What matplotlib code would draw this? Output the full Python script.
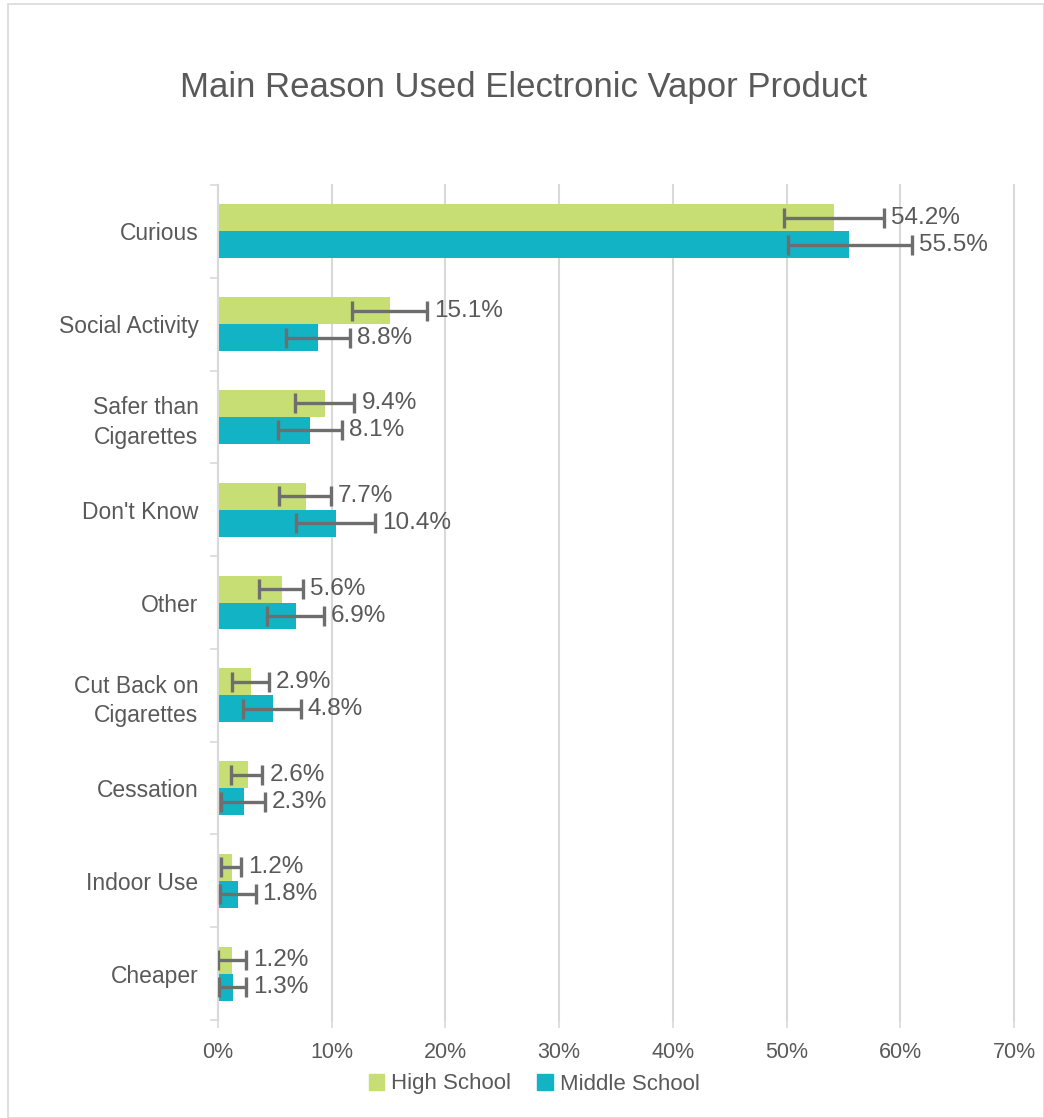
import matplotlib
matplotlib.use("Agg")
import matplotlib.pyplot as plt
import numpy as np
from matplotlib.patches import Rectangle, Patch

categories = ["Curious", "Social Activity", "Safer than\nCigarettes", "Don't Know", "Other",
              "Cut Back on\nCigarettes", "Cessation", "Indoor Use", "Cheaper"]
hs_values = [54.2, 15.1, 9.4, 7.7, 5.6, 2.9, 2.6, 1.2, 1.2]
ms_values = [55.5, 8.8, 8.1, 10.4, 6.9, 4.8, 2.3, 1.8, 1.3]
hs_low = [49.8, 11.8, 6.8, 5.4, 3.6, 1.2, 1.1, 0.3, 0.0]
hs_high = [58.6, 18.4, 12.0, 9.9, 7.5, 4.5, 3.9, 2.0, 2.5]
ms_low = [50.1, 6.0, 5.3, 6.9, 4.3, 2.2, 0.3, 0.2, 0.1]
ms_high = [61.0, 11.6, 10.9, 13.8, 9.3, 7.3, 4.1, 3.3, 2.5]
xticks = [0, 10, 20, 30, 40, 50, 60, 70]

plt.rcParams['font.family'] = ['Liberation Sans', 'DejaVu Sans']
TXT = "#595959"
HS_C = "#C6DE74"
MS_C = "#12B3C4"
ERR_C = "#6E6E6E"

W, H = 1044, 1118
fig = plt.figure(figsize=(W / 100, H / 100), dpi=100)
fig.patches.append(Rectangle((8 / W, 0.0), (W - 8) / W, 1 - 4 / H, transform=fig.transFigure,
                             fill=False, edgecolor="#D9D9D9", linewidth=1.2))

ax = fig.add_axes([218 / W, 1 - 1020 / H, (1014 - 218) / W, (1020 - 185) / H])
n = len(categories)
y = np.arange(n)
h = 0.29
hs = np.array(hs_values)
ms = np.array(ms_values)
ax.barh(y - h / 2, hs, height=h, color=HS_C, zorder=2)
ax.barh(y + h / 2, ms, height=h, color=MS_C, zorder=2)
ax.errorbar(hs, y - h / 2, xerr=[hs - np.array(hs_low), np.array(hs_high) - hs], fmt="none",
            ecolor=ERR_C, elinewidth=2.4, capsize=7, capthick=2.4, zorder=3)
ax.errorbar(ms, y + h / 2, xerr=[ms - np.array(ms_low), np.array(ms_high) - ms], fmt="none",
            ecolor=ERR_C, elinewidth=2.4, capsize=7, capthick=2.4, zorder=3)
for i in range(n):
    ax.annotate(f"{hs_values[i]:.1f}%", (hs_high[i], y[i] - h / 2), xytext=(5, 0),
                textcoords="offset points", va="center", ha="left", fontsize=17.5, color=TXT)
    ax.annotate(f"{ms_values[i]:.1f}%", (ms_high[i], y[i] + h / 2), xytext=(5, 0),
                textcoords="offset points", va="center", ha="left", fontsize=17.5, color=TXT)

ax.set_xlim(0, 70)
ax.set_ylim(n - 0.5, -0.5)
ax.set_xticks(xticks)
ax.set_xticklabels([f"{t}%" for t in xticks], fontsize=15.5, color=TXT)
ax.set_yticks(y)
ax.set_yticklabels(categories, fontsize=16.5, color=TXT, linespacing=1.35)
ax.set_yticks(np.arange(n + 1) - 0.5, minor=True)
ax.tick_params(axis="y", which="major", length=0, pad=14)
ax.tick_params(axis="y", which="minor", length=6, color="#D9D9D9", width=1.2)
ax.tick_params(axis="x", length=6, color="#D9D9D9", width=1.2, pad=10)
ax.grid(axis="x", color="#D9D9D9", linewidth=1.5, zorder=0)
for gl in ax.get_xgridlines():
    gl.set_clip_on(False)
ax.set_axisbelow(True)
for s in ["top", "right", "bottom"]:
    ax.spines[s].set_visible(False)
ax.spines["left"].set_color("#D9D9D9")
ax.spines["left"].set_linewidth(1.5)

fig.text(524 / W, 1 - 87 / H, "Main Reason Used Electronic Vapor Product", ha="center", va="center",
         fontsize=25, color=TXT)

handles = [Patch(color=HS_C, label="High School"), Patch(color=MS_C, label="Middle School")]
fig.legend(handles=handles, loc="center", bbox_to_anchor=(534 / W, 1 - 1084 / H), ncol=2, frameon=False,
           fontsize=16, labelcolor=TXT, handlelength=0.7, handleheight=0.7, handletextpad=0.3,
           columnspacing=1.2)

fig.savefig("out.png", dpi=100)
